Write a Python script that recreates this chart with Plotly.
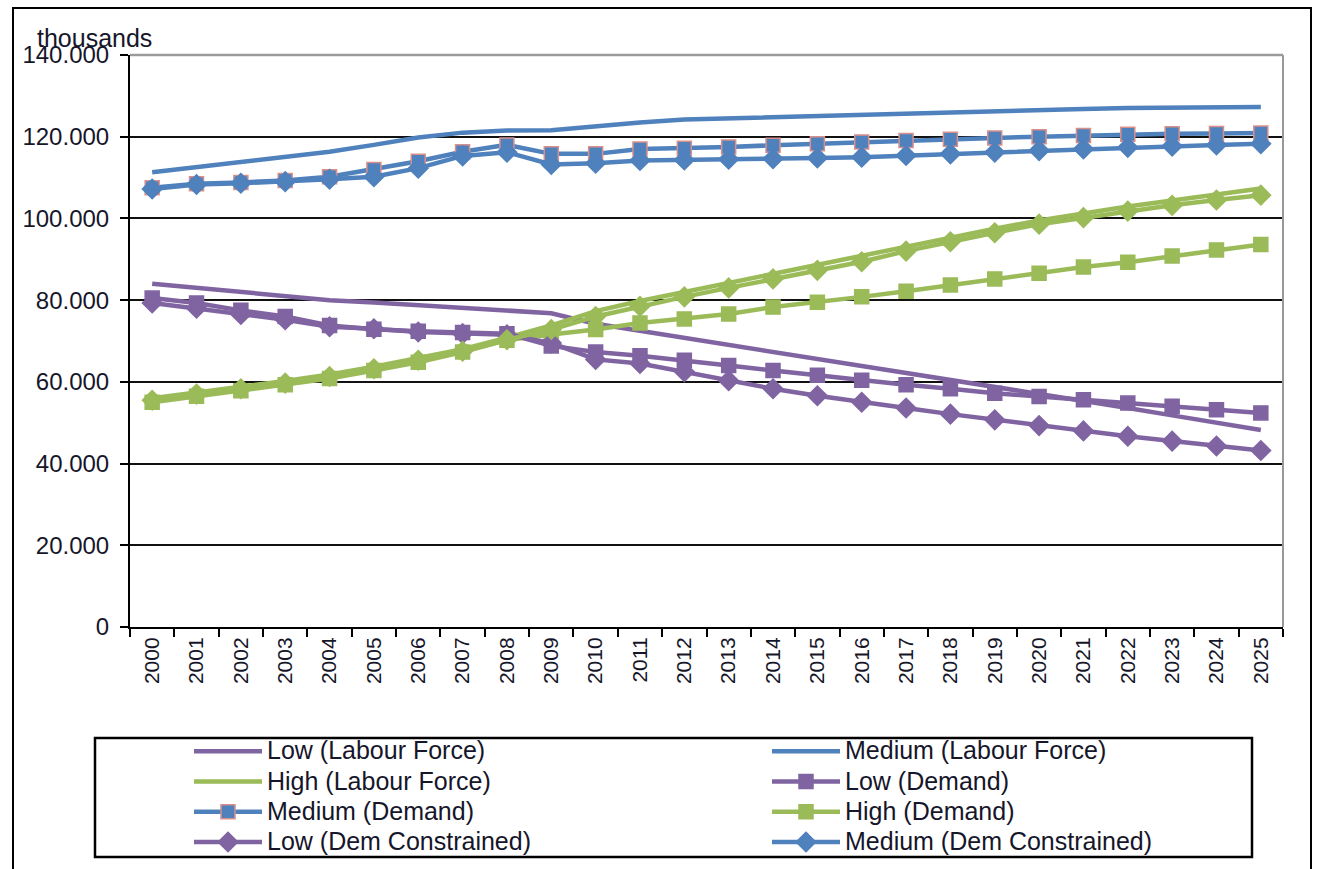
import plotly.graph_objects as go

years = [str(y) for y in range(2000, 2026)]

# Labour force projections (thousands)
low_labour_force = [84.0, 83.0, 82.0, 81.0, 80.0, 79.4, 78.8, 78.0, 77.6, 76.8, 74.2, 72.5, 70.8,
                    69.0, 67.3, 65.6, 63.9, 62.2, 60.5, 58.8, 57.1, 55.4, 53.6, 51.8, 50.0, 48.2]
medium_labour_force = [111.3, 112.5, 113.7, 115.0, 116.3, 118.0, 119.8, 121.0, 121.5, 121.6, 122.6,
                       123.5, 124.2, 124.5, 124.8, 125.2, 125.5, 125.8, 126.1, 126.4, 126.6, 126.8,
                       127.0, 127.1, 127.2, 127.3]
high_labour_force = [56.0, 57.5, 58.8, 60.2, 61.8, 63.7, 65.8, 68.0, 70.8, 73.8, 77.3, 79.8, 82.0,
                     84.2, 86.4, 88.6, 90.9, 93.2, 95.4, 97.5, 99.5, 101.3, 102.9, 104.4, 105.9, 107.3]

# Demand projections (thousands)
low_demand = [80.5, 79.3, 77.5, 76.0, 73.8, 72.9, 72.4, 72.1, 71.8, 68.8, 67.3, 66.4, 65.3, 64.0,
              62.8, 61.6, 60.4, 59.3, 58.3, 57.2, 56.4, 55.6, 54.8, 54.0, 53.2, 52.4]
medium_demand = [107.5, 108.5, 108.8, 109.3, 110.2, 112.0, 114.0, 116.3, 118.0, 115.8, 115.8, 117.0,
                 117.2, 117.5, 117.9, 118.3, 118.7, 119.1, 119.4, 119.7, 120.0, 120.3, 120.6, 120.7,
                 120.8, 120.9]
high_demand = [55.0, 56.5, 57.8, 59.3, 60.8, 62.8, 64.8, 67.3, 70.2, 71.6, 72.8, 74.4, 75.4, 76.6,
               78.3, 79.5, 80.8, 82.2, 83.7, 85.2, 86.6, 88.1, 89.3, 90.8, 92.3, 93.6]

# Demand-constrained projections (thousands)
low_dem_constrained = [79.3, 78.0, 76.5, 75.2, 73.5, 73.0, 72.2, 71.8, 71.5, 69.5, 65.5, 64.5, 62.5,
                       60.3, 58.3, 56.6, 55.0, 53.6, 52.1, 50.7, 49.3, 48.0, 46.7, 45.5, 44.3, 43.2]
medium_dem_constrained = [107.2, 108.3, 108.6, 109.0, 109.6, 110.2, 112.3, 115.3, 116.2, 113.2, 113.5,
                          114.2, 114.3, 114.5, 114.6, 114.8, 115.0, 115.4, 115.8, 116.2, 116.6, 117.0,
                          117.4, 117.7, 118.0, 118.3]
high_dem_constrained = [55.5, 57.0, 58.3, 59.7, 61.3, 63.2, 65.3, 67.5, 70.3, 72.8, 76.0, 78.5, 80.8,
                        83.0, 85.2, 87.3, 89.4, 92.0, 94.3, 96.5, 98.6, 100.2, 101.8, 103.2, 104.5, 105.7]

y_ticks = [0, 20000, 40000, 60000, 80000, 100000, 120000, 140000]

PURPLE = "#8064A2"
BLUE = "#4F81BD"
GREEN = "#9BBB59"
SALMON = "#D9908A"
TEXT = "#16162a"
FONT = "Arial, Liberation Sans, sans-serif"


def scaled(values):
    return [v * 1000 for v in values]


def legend_label(text):
    # larger glyphs inside a compact legend row
    return f"<span style='font-size:25px'>{text}</span>"


series = [
    ("Low (Labour Force)", low_labour_force, PURPLE, None, None),
    ("Medium (Labour Force)", medium_labour_force, BLUE, None, None),
    ("High (Labour Force)", high_labour_force, GREEN, None, None),
    ("Low (Demand)", low_demand, PURPLE, "square", PURPLE),
    ("Medium (Demand)", medium_demand, BLUE, "square", SALMON),
    ("High (Demand)", high_demand, GREEN, "square", GREEN),
    ("Low (Dem Constrained)", low_dem_constrained, PURPLE, "diamond", PURPLE),
    ("Medium (Dem Constrained)", medium_dem_constrained, BLUE, "diamond", BLUE),
    ("High (Dem Constrained)", high_dem_constrained, GREEN, "diamond", GREEN),
]

fig = go.Figure()
for i, (name, vals, color, symbol, edge) in enumerate(series):
    if symbol is None:
        mode = "lines"
        marker = None
    else:
        mode = "lines+markers"
        marker = dict(symbol=symbol, size=15 if symbol == "diamond" else 14, color=color,
                      line=dict(color=edge, width=1.5))
    fig.add_trace(go.Scatter(
        x=years, y=scaled(vals), name=legend_label(name), mode=mode,
        line=dict(color=color, width=4.5),
        marker=marker,
        showlegend=(i < 8),
        hovertemplate=name + "<br>%{x}: %{y:,.0f}<extra></extra>",
    ))

fig.update_layout(
    width=1318, height=869,
    margin=dict(l=130, r=35, t=55, b=242),
    paper_bgcolor="white", plot_bgcolor="white",
    separators=",.",
    font=dict(family=FONT, size=21, color=TEXT),
    xaxis=dict(
        type="category", tickangle=-90, tickson="boundaries",
        ticks="outside", ticklen=8, tickcolor="black", tickwidth=2,
        showline=True, linecolor="black", linewidth=2,
        showgrid=False, tickfont=dict(size=21, color=TEXT),
        range=[-0.5, 25.5], automargin=False,
    ),
    yaxis=dict(
        range=[0, 140000], tickvals=y_ticks, tickformat=",.0f",
        ticks="outside", ticklen=8, tickcolor="black", tickwidth=2,
        showline=True, linecolor="black", linewidth=2,
        showgrid=True, gridcolor="#111111", gridwidth=1.5,
        zeroline=False, tickfont=dict(size=24, color=TEXT),
        ticklabelstandoff=6, automargin=False,
    ),
    legend=dict(
        orientation="h", xref="container", yref="container",
        x=189 / 1318, xanchor="left", y=1 - 731 / 869, yanchor="top",
        borderwidth=0, bgcolor="rgba(0,0,0,0)",
        font=dict(size=21, family=FONT, color=TEXT),
        entrywidth=495, entrywidthmode="pixels",
        itemwidth=68, tracegroupgap=0,
    ),
    annotations=[dict(
        text="thousands", xref="paper", yref="paper",
        x=(35 - 130) / 1153, y=(627 - 38) / 572, xanchor="left", yanchor="middle",
        showarrow=False, font=dict(size=25, family=FONT, color=TEXT),
    )],
    shapes=[
        # light top border of the plot area
        dict(type="line", xref="paper", yref="paper", x0=0, x1=1, y0=1, y1=1,
             line=dict(color="#9a9a9a", width=2.5)),
        # right edge of the plot area
        dict(type="line", xref="paper", yref="paper", x0=1, x1=1, y0=0, y1=1,
             line=dict(color="#999999", width=2)),
        # legend box
        dict(type="rect", xref="paper", yref="paper",
             x0=(95 - 130) / 1153, x1=(1252 - 130) / 1153,
             y0=(627 - 857) / 572, y1=(627 - 738) / 572,
             line=dict(color="black", width=2.5)),
        # chart frame
        dict(type="rect", xref="paper", yref="paper",
             x0=(13 - 130) / 1153, x1=(1311 - 130) / 1153,
             y0=(627 - 880) / 572, y1=(627 - 8) / 572,
             line=dict(color="black", width=2)),
    ],
)

fig.write_html("out.html")
